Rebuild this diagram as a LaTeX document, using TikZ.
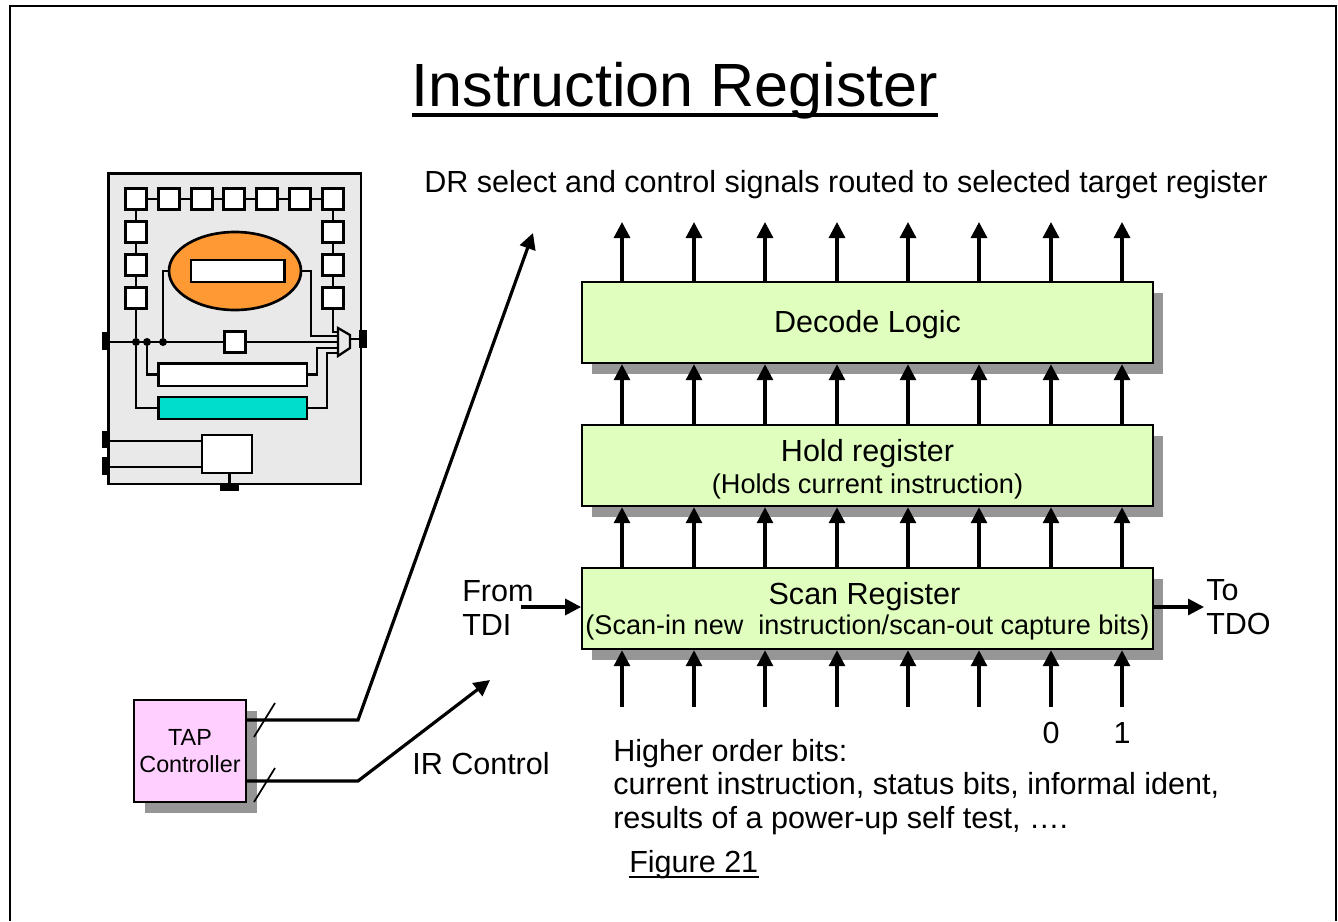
\documentclass[tikz,border=0pt]{standalone}
\usepackage{fontspec}
\setmainfont{Liberation Sans}
\usetikzlibrary{arrows.meta,shapes.geometric}
\definecolor{blockgreen}{HTML}{E0FFBE}
\definecolor{tappink}{HTML}{FFD0FF}
\definecolor{shadowgray}{HTML}{969696}
\definecolor{chipgray}{HTML}{E9E9E9}
\definecolor{coreorange}{HTML}{FF9933}
\definecolor{regteal}{HTML}{00DDCC}
\newcommand{\fs}[1]{\fontsize{#1}{#1}\selectfont}
\begin{document}
\begin{tikzpicture}[
		x=0.75pt,
		y=-0.75pt,
		>={Triangle[length=12pt,width=12pt]},
		block/.style={draw,line width=1.6pt,fill=blockgreen,inner sep=0pt,minimum width=428pt,minimum height=61pt,align=center},
		shadowbox/.style={fill=shadowgray,inner sep=0pt,minimum width=428pt,minimum height=61pt},
		bus/.style={line width=2.4pt,->},
		label/.style={inner sep=0pt,align=left,font=\fontsize{22.9}{25}\selectfont},
		chipbox/.style={draw,line width=2pt,fill=white,inner sep=0pt},
		cell/.style={chipbox,minimum size=16pt},
		wire/.style={line width=2.2pt},
		port/.style={fill=black,inner sep=0pt},
		junction/.style={circle,fill=black,inner sep=0pt,minimum size=6pt}
	]

		% Frame
		\useasboundingbox (0,0) rectangle (1338,921);
		\draw[line width=1.5pt] (10,921) -- (10,6) -- (1336,6) -- (1336,921);

		% Title
		\node[inner sep=0pt,font=\fs{45.8},anchor=base] (title) at (675,106) {Instruction Register};
		\draw[line width=3pt] ([yshift=-6.5pt]title.base west) -- ([yshift=-6.5pt]title.base east);
		\node[label,anchor=base west] (dr) at (424,192) {DR select and control signals routed to selected target register};

		% Chip
		\node[draw,line width=2pt,fill=chipgray,inner sep=0pt,minimum width=189.5pt,minimum height=233pt] (chip) at (234.5,328.5) {};
		\foreach \name/\x/\y in {c1/136/199,c2/169/199,c3/202/199,c4/234/199,c5/267/199,c6/300/199,c7/333/199,
				l1/136/232,l2/136/265,l3/136/298,r1/333/232,r2/333/265,r3/333/298}
			\node[cell] (\name) at (\x,\y) {};
		\foreach \a/\b in {c1/c2,c2/c3,c3/c4,c4/c5,c5/c6,c6/c7,c1/l1,l1/l2,l2/l3,c7/r1,r1/r2,r2/r3}
			\draw[wire] (\a) -- (\b);

		\node[draw,line width=2pt,fill=coreorange,ellipse,inner sep=0pt,minimum width=99pt,minimum height=58.5pt] (core) at (235,271) {};
		\node[cell] (bypass) at (235,342) {};
		\node[chipbox,minimum width=111.5pt,minimum height=17pt] (idreg) at (232.5,374.5) {};
		\node[chipbox,fill=regteal,minimum width=111.5pt,minimum height=16.5pt] (irreg) at (232.5,408) {};
		\node[chipbox,minimum width=37.5pt,minimum height=28.5pt] (tapbox) at (227,454) {};

		% Ports
		\node[port,minimum width=5.5pt,minimum height=14pt] (pin1) at (105.5,341) {};
		\node[port,minimum width=5.5pt,minimum height=13pt] (pin2) at (105.5,439.5) {};
		\node[port,minimum width=5.5pt,minimum height=13pt] (pin3) at (105.5,466) {};
		\node[port,minimum width=6pt,minimum height=13.5pt] (pin4) at (363,339) {};
		\node[port,minimum width=14pt,minimum height=6pt] (pin5) at (229.5,487) {};

		% Mux
		\coordinate (m1) at (338,336);
		\coordinate (m2) at (338,342);
		\coordinate (m3) at (338,348);
		\coordinate (m4) at (338,353);
		\coordinate (m5) at (338,332);
		\node[junction] (j1) at (136,342) {};
		\node[junction] (j2) at (147,342) {};
		\node[junction] (j3) at (163,342) {};

		% Wires
		\draw[wire] (pin1.center |- bypass) -- (bypass) -- (m2);
		\draw[wire] (l3) -- (j1) |- (irreg);
		\draw[wire] (j2) |- (idreg);
		\draw[wire] (j3) |- (core);
		\draw[wire] (core) -| (311,336) -- (m1);
		\node[chipbox,minimum width=70pt,minimum height=16.5pt] (corereg) at (237.5,271) {};
		\draw[wire] (idreg) -| (317,348) -- (m3);
		\draw[wire] (irreg) -| (327,353) -- (m4);
		\draw[wire] (r3) -- (333,332) -- (m5);
		\draw[wire] (350,339) -- (pin4);
		\draw[wire] (pin2.center |- 0,441) -- (tapbox.west |- 0,441);
		\draw[wire] (pin3.center |- 0,467) -- (tapbox.west |- 0,467);
		\draw[wire] (tapbox.south -| pin5) -- (pin5);
		\draw[line width=1.7pt,fill=chipgray] (338,328) -- (350,335) -- (350,348) -- (338,356) -- cycle;

		% Blocks
		\foreach \name/\y in {decode/322.5,hold/465.5,scan/608.5}
			\node[shadowbox] at (877.5,\y+11) {};
		\node[block] (decode) at (867.5,322.5) {\fs{22.9}\rule{0pt}{19.7pt}Decode Logic};
		\node[block] (hold) at (867.5,465.5) {\fs{22.9}\rule{0pt}{22pt}Hold register\\[3.5pt]\fs{20.4}(Holds current instruction)};
		\node[block] (scan) at (867.5,608.5) {\fs{22.9}\rule{0pt}{20.5pt}Scan Register\hspace*{4.5pt}\\[2pt]\fs{20.3}(Scan-in new\ \ instruction/scan-out capture bits)};

		% Buses
		\foreach \x [count=\i] in {622,694,765,837,908,979,1051,1122} {
			\coordinate (top\i) at (\x,222);
			\coordinate (bot\i) at (\x,707);
			\draw[bus] (decode.north -| top\i) -- (top\i);
			\draw[bus] (hold.north -| top\i) -- (decode.south -| top\i);
			\draw[bus] (scan.north -| top\i) -- (hold.south -| top\i);
			\draw[bus] (bot\i) -- (scan.south -| bot\i);
		}

		% Scan path
		\coordinate (tdi) at (521,607);
		\coordinate (tdo) at (1204,607);
		\draw[bus] (tdi) -- (tdi -| scan.west);
		\draw[bus] (tdo -| scan.east) -- (tdo);
		\node[label,anchor=west] (from) at (462,608) {From\\TDI};
		\node[label,anchor=west] (to) at (1206,607) {To\\TDO};

		% TAP controller
		\node[fill=shadowgray,inner sep=0pt,minimum width=84pt,minimum height=76.5pt] at (201,762) {};
		\node[draw,line width=1.8pt,fill=tappink,inner sep=0pt,minimum width=84pt,minimum height=76.5pt,align=center,font=\fontsize{17.5}{20}\selectfont] (tap) at (190,751) {TAP\\Controller};
		\coordinate (dr1) at (358,720);
		\coordinate (dr2) at (533,233);
		\coordinate (ir1) at (358,781);
		\coordinate (ir2) at (490,680);
		\draw[bus] (tap.east |- dr1) -- (dr1) -- (dr2);
		\draw[bus] (tap.east |- ir1) -- (ir1) -- (ir2);
		\coordinate (s1a) at (254,737);
		\coordinate (s1b) at (275,703);
		\coordinate (s2a) at (254,802);
		\coordinate (s2b) at (275,768);
		\draw[line width=1.3pt] (s1a) -- (s1b);
		\draw[line width=1.3pt] (s2a) -- (s2b);

		% Labels
		\node[label,anchor=west] (irctl) at (412,764) {IR Control};
		\node[label] (zero) at (1051,733) {0};
		\node[label] (one) at (1122,733) {1};
		\node[label,anchor=north west] (bits) at (613,739) {Higher order bits:\\current instruction, status bits, informal ident,\\results of a power-up self test, ….};
		\node[label,anchor=base west] (fig) at (629,872) {Figure 21};
		\draw[line width=1.5pt] ([yshift=-4pt]fig.base west) -- ([yshift=-4pt]fig.base east);
	\end{tikzpicture}
\end{document}
